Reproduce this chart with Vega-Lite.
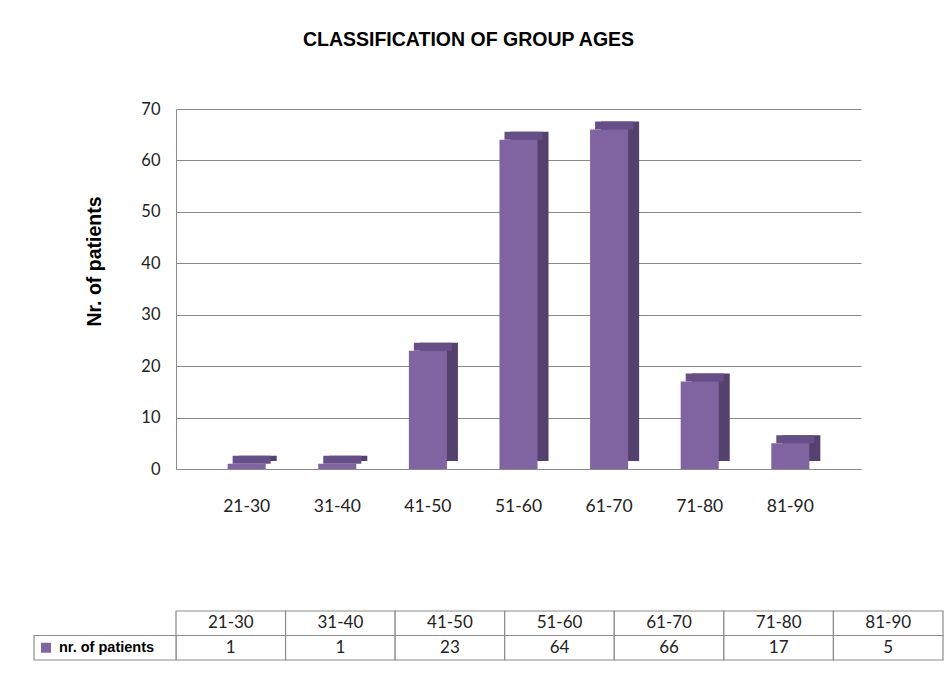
{
  "$schema": "https://vega.github.io/schema/vega-lite/v6.json",
  "background": "white",
  "padding": {"left": 33, "top": 29, "right": 5, "bottom": 5},
  "title": {
    "text": "CLASSIFICATION OF GROUP AGES",
    "font": "Liberation Sans",
    "fontSize": 19.5,
    "fontWeight": "bold",
    "color": "#000000",
    "anchor": "middle",
    "offset": 51,
    "dx": -20
  },
  "config": {"view": {"stroke": null}, "font": "Lato"},
  "data": {
    "values": [
      {"age": "21-30", "patients": 1},
      {"age": "31-40", "patients": 1},
      {"age": "41-50", "patients": 23},
      {"age": "51-60", "patients": 64},
      {"age": "61-70", "patients": 66},
      {"age": "71-80", "patients": 17},
      {"age": "81-90", "patients": 5}
    ]
  },
  "bounds": "flush",
  "spacing": 142,
  "resolve": {"scale": {"x": "independent", "y": "independent"}},
  "vconcat": [
    {
      "width": 685,
      "height": 360,
      "encoding": {
        "x": {
          "field": "age",
          "type": "nominal",
          "sort": null,
          "scale": {"paddingInner": 0.58, "paddingOuter": 0.57},
          "axis": {
            "title": null,
            "labelAngle": 0,
            "labelFont": "Lato",
            "labelFontSize": 17.5,
            "labelColor": "#222222",
            "labelPadding": 28,
            "ticks": false,
            "domainColor": "#8a8a8a"
          }
        },
        "y": {
          "field": "patients",
          "type": "quantitative",
          "scale": {"domain": [0, 70], "nice": false},
          "axis": {
            "values": [0, 10, 20, 30, 40, 50, 60, 70],
            "title": "Nr. of patients",
            "titleFont": "Liberation Sans",
            "titleFontSize": 19.5,
            "titleFontWeight": "bold",
            "titleColor": "#000000",
            "titlePadding": 36,
            "titleY": 152,
            "labelFont": "Lato",
            "labelFontSize": 16.5,
            "labelColor": "#222222",
            "labelPadding": 16,
            "ticks": false,
            "grid": true,
            "gridColor": "#8a8a8a",
            "domainColor": "#8a8a8a"
          }
        }
      },
      "layer": [
        {
          "mark": {"type": "bar", "color": "#54416E", "xOffset": 11, "x2Offset": 11, "yOffset": -8, "y2Offset": -8}
        },
        {
          "mark": {"type": "bar", "color": "#664F86", "xOffset": 5, "x2Offset": 5, "yOffset": -8, "y2Offset": 0},
          "encoding": {"y2": {"field": "patients"}}
        },
        {
          "mark": {"type": "bar", "color": "#8064A2"}
        }
      ]
    },
    {
      "width": 767,
      "height": 49,
      "layer": [
        {
          "encoding": {
            "x": {
              "field": "age",
              "type": "nominal",
              "sort": null,
              "scale": {"paddingInner": 0, "paddingOuter": 0},
              "axis": null
            }
          },
          "layer": [
            {
              "mark": {"type": "rect", "fill": "white", "stroke": "#8c8c8c", "strokeWidth": 1.2},
              "encoding": {
                "y": {
                  "datum": "age group",
                  "type": "nominal",
                  "scale": {"domain": ["age group", "nr. of patients"], "paddingInner": 0, "paddingOuter": 0},
                  "axis": null
                }
              }
            },
            {
              "mark": {"type": "rect", "fill": "white", "stroke": "#8c8c8c", "strokeWidth": 1.2},
              "encoding": {"y": {"datum": "nr. of patients", "type": "nominal"}}
            },
            {
              "mark": {"type": "text", "font": "Lato", "fontSize": 17, "color": "#222222"},
              "encoding": {
                "y": {"datum": "age group", "type": "nominal"},
                "text": {"field": "age"}
              }
            },
            {
              "mark": {"type": "text", "font": "Lato", "fontSize": 17, "color": "#222222"},
              "encoding": {
                "y": {"datum": "nr. of patients", "type": "nominal"},
                "text": {"field": "patients"}
              }
            }
          ]
        },
        {
          "data": {"values": [{"series": "nr. of patients"}]},
          "encoding": {
            "y": {"field": "series", "type": "nominal"}
          },
          "layer": [
            {
              "mark": {"type": "rect", "fill": "white", "stroke": "#8c8c8c", "strokeWidth": 1.2},
              "encoding": {
                "x": {
                  "field": "series",
                  "type": "nominal",
                  "scale": {"range": [-142, 0], "paddingInner": 0, "paddingOuter": 0},
                  "axis": null
                }
              }
            },
            {
              "mark": {"type": "square", "color": "#8064A2", "opacity": 1, "size": 100, "xOffset": 12},
              "encoding": {"x": {"field": "series", "type": "nominal", "bandPosition": 0}}
            },
            {
              "mark": {"type": "text", "align": "left", "dx": 25, "font": "Liberation Sans", "fontWeight": "bold", "fontSize": 14.5, "color": "#000000"},
              "encoding": {
                "x": {"field": "series", "type": "nominal", "bandPosition": 0},
                "text": {"field": "series"}
              }
            }
          ]
        }
      ],
      "resolve": {"scale": {"x": "independent"}}
    }
  ]
}
